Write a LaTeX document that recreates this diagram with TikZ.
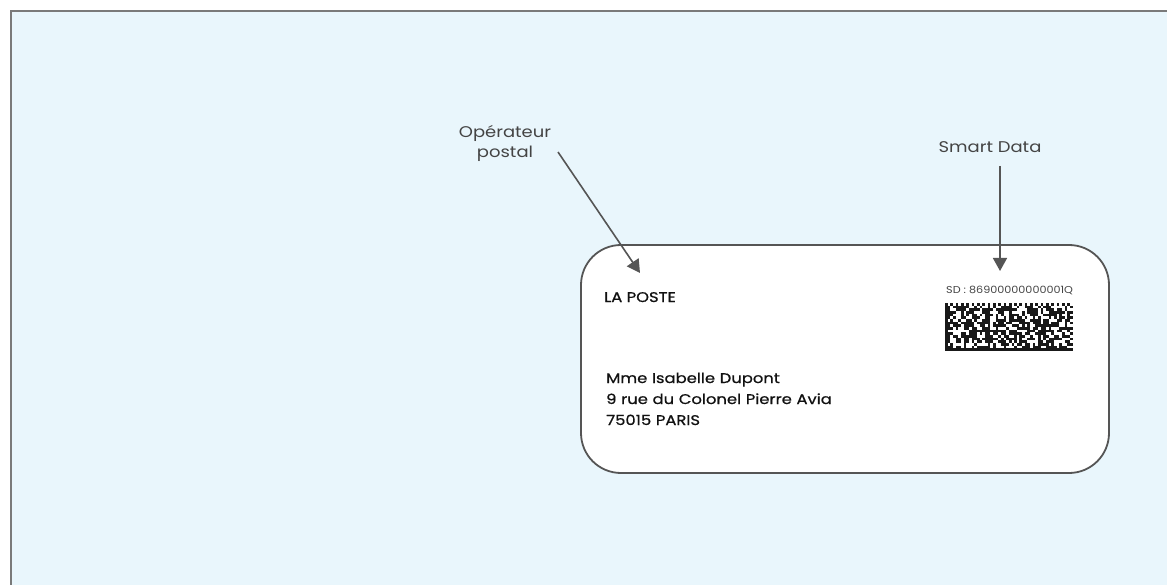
\documentclass[tikz,border=0pt]{standalone}
\usepackage{fontspec}
\setmainfont{Poppins}
\newfontfamily\lblfont[FakeStretch=1.16]{Poppins}
\newfontfamily\addrfont[FakeStretch=1.17,FakeBold=0.7]{Poppins}
\newfontfamily\sdfont[FakeStretch=1.12]{Poppins}
\usetikzlibrary{arrows.meta}
\definecolor{bgblue}{HTML}{E9F6FC}
\definecolor{framegray}{HTML}{7A7A7A}
\definecolor{cardgray}{HTML}{555555}
\definecolor{labelgray}{HTML}{444444}
\definecolor{textdark}{HTML}{111111}
\tikzset{
  lbl/.style={font=\lblfont\fontsize{15.5}{20}\selectfont, text=labelgray, align=center, inner sep=0pt},
  card/.style={draw=cardgray, line width=1.8pt, fill=white, rounded corners=40pt, minimum width=528pt, minimum height=228pt, inner sep=0pt},
  pointer/.style={draw=cardgray, line width=1.6pt, -{Triangle[length=13pt,width=14pt]}},
  addr/.style={font=\addrfont\fontsize{14}{21}\selectfont, text=textdark, align=left, inner sep=0pt, anchor=base west},
  module/.style={fill=black!90}
}
\begin{document}
\begin{tikzpicture}[x=1pt,y=-1pt]
\useasboundingbox (0,0) rectangle (1167,585);
\begin{scope}
\clip (0,0) rectangle (1167,585);
\draw[framegray, line width=2pt, fill=bgblue] (11,11) rectangle (1190,610);
\end{scope}
\node[card] (card) at (845,359) {};
\node[lbl] (oper) at (505,143) {Opérateur\\postal};
\node[lbl] (smart) at (990,147) {Smart Data};
\coordinate (opertip) at (640,273);
\coordinate (smarttip) at (1000,271);
\coordinate (operstart) at (558,152);
\coordinate (smartstart) at (1000,166);
\draw[pointer] (operstart) -- (opertip);
\draw[pointer] (smartstart) -- (smarttip);
\node[addr] (poste) at (604,302) {LA POSTE};
\node[addr, text width=300pt] (address) at (606,383) {Mme Isabelle Dupont\\9 rue du Colonel Pierre Avia\\75015 PARIS};
\node[inner sep=0pt, anchor=base west, font=\sdfont\fontsize{10}{12}\selectfont, text=labelgray] (sd) at (946,294) {SD : 86900000000001Q};
% data matrix
\pgfmathsetseed{7}
\begin{scope}
\foreach \i in {0,...,47} {
  \foreach \j in {0,...,17} {
    \pgfmathrandominteger{\r}{0}{9}
    \ifnum\r>3 \fill[module] (945+\i*2.66,303+\j*2.66) rectangle ++(2.66,2.66); \fi
  }
}
\fill[module] (945,303) rectangle ++(2.66,47.88);
\fill[module] (945,303+17*2.66) rectangle ++(127.68,2.66);
\foreach \i in {0,2,...,46} { \fill[module] (945+\i*2.66,303) rectangle ++(2.66,2.66); \fill[white] (945+\i*2.66+2.66,303) rectangle ++(2.66,2.66);}
\foreach \j in {0,2,...,16} { \fill[module] (945+47*2.66,303+\j*2.66+2.66) rectangle ++(2.66,2.66); \fill[white] (945+47*2.66,303+\j*2.66) rectangle ++(2.66,2.66);}
\end{scope}
\end{tikzpicture}
\end{document}
